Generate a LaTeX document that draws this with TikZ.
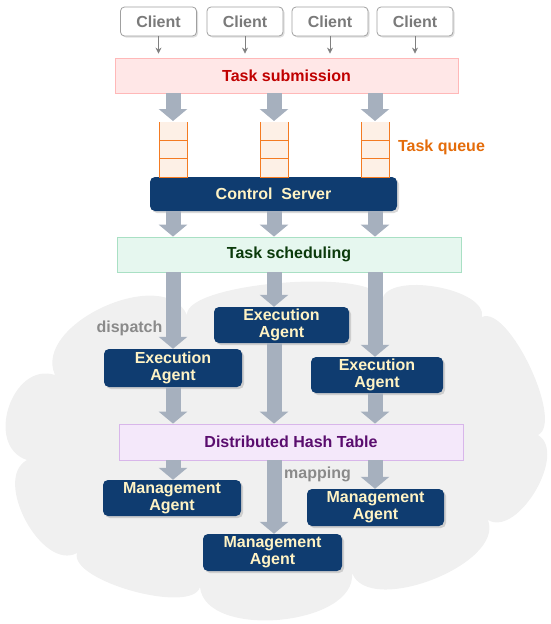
\documentclass[tikz,border=0pt]{standalone}
\usepackage{fontspec}
\setmainfont{Liberation Sans}
\usetikzlibrary{arrows.meta,shadows,calc}
\definecolor{navy}{HTML}{0F3C70}
\definecolor{navytext}{HTML}{FFF3C4}
\definecolor{arrowc}{HTML}{A6B0BE}
\definecolor{cloudc}{HTML}{F0F0F0}
\definecolor{pinkfill}{HTML}{FFE7E7}
\definecolor{pinkline}{HTML}{FFB8B8}
\definecolor{redtext}{HTML}{C00000}
\definecolor{greenfill}{HTML}{E6F7EF}
\definecolor{greenline}{HTML}{A9E0C4}
\definecolor{greentext}{HTML}{0B3A0B}
\definecolor{purplefill}{HTML}{F4E8FA}
\definecolor{purpleline}{HTML}{D8B6EA}
\definecolor{purpletext}{HTML}{5A0D6E}
\definecolor{queuefill}{HTML}{FDF0E6}
\definecolor{queueline}{HTML}{F47B22}
\definecolor{orangetext}{HTML}{E46C0A}
\definecolor{graytext}{HTML}{8A8A8A}
\definecolor{clienttext}{HTML}{7A7A7A}
\definecolor{clientline}{HTML}{A0A0A0}
\begin{document}
\begin{tikzpicture}[x=1pt,y=-1pt,font=\fontsize{16}{17}\selectfont\bfseries,
  client/.style={draw=clientline,fill=white,rounded corners=4pt,line width=0.8pt,
    minimum width=76pt,minimum height=29pt,inner sep=0pt,text=clienttext,
    drop shadow={shadow xshift=1.5pt,shadow yshift=-1.5pt,opacity=0.25}},
  band/.style={line width=0.8pt,minimum height=35pt,inner sep=0pt},
  navybox/.style={fill=navy,rounded corners=5pt,text=navytext,inner sep=0pt,
    align=center,minimum height=36pt,
    drop shadow={shadow xshift=2pt,shadow yshift=-2pt,opacity=0.3}},
  thin/.style={draw=gray,line width=0.8pt,-{Stealth[length=6pt,width=6pt]}},
  fat/.style={draw=arrowc,line width=15pt,-{Triangle[length=12pt,width=28pt]}},
  lbl/.style={inner sep=0pt,text=graytext},
  queue/.style={draw=queueline,line width=1pt}]
\useasboundingbox (0,0) rectangle (550,624);
% cloud
\fill[cloudc] (55,375) .. controls (32,324) and (164,264) .. (187,315)
  .. controls (184.5,282) and (379.5,267) .. (382,300)
  .. controls (387,271) and (487,288) .. (482,317)
  .. controls (508.5,304.4) and (564.5,422.4) .. (538,435)
  .. controls (568,452.7) and (518,537.7) .. (488,520)
  .. controls (505,564) and (369,617) .. (352,573)
  .. controls (357,626) and (205,640) .. (200,587)
  .. controls (192,615) and (69,581) .. (77,553)
  .. controls (42,572) and (-8,479) .. (27,460)
  .. controls (-16,446) and (12,361) .. (55,375) -- cycle;
% columns
\coordinate (c1) at (173,0);
\coordinate (c2) at (274,0);
\coordinate (c3) at (375,0);
% clients
\node[client] (cl1) at (158.5,21.5) {Client};
\node[client] (cl2) at (245,21.5) {Client};
\node[client] (cl3) at (330,21.5) {Client};
\node[client] (cl4) at (415,21.5) {Client};
\node[band,draw=pinkline,fill=pinkfill,text=redtext,minimum width=343pt] (ts) at (286.5,75.5) {Task submission};
\foreach \i in {1,...,4}{\draw[thin,shorten >=4pt] (cl\i.south) -- (ts.north -| cl\i.south);}
% control server
\node[navybox,minimum width=247pt,minimum height=34pt] (cs) at (273.5,194) {Control\ \ Server};
% queues
\foreach \c in {1,2,3}{
  \coordinate (q\c) at ($(c\c)+(0,121)$);
  \fill[queuefill] ($(c\c)+(-14,122)$) rectangle ($(c\c)+(14,177)$);
  \draw[queue] ($(c\c)+(-14,122)$) -- ($(c\c)+(-14,177)$) -- ($(c\c)+(14,177)$) -- ($(c\c)+(14,122)$);
  \draw[queue] ($(c\c)+(-14,140)$) -- ($(c\c)+(14,140)$);
  \draw[queue] ($(c\c)+(-14,158.5)$) -- ($(c\c)+(14,158.5)$);
  \draw[fat] (ts.south -| c\c) -- (q\c);
}
\node[inner sep=0pt,text=orangetext] (tq) at (441.5,147) {Task queue};
% scheduling
\node[band,draw=greenline,fill=greenfill,text=greentext,minimum width=344pt] (sch) at (289,254.5) {Task scheduling};
\foreach \c in {1,2,3}{\draw[fat] (cs.south -| c\c) -- (sch.north -| c\c);}
% execution agents
\node[navybox,minimum width=138pt,minimum height=38pt] (ex1) at (173,368) {Execution\\Agent};
\node[navybox,minimum width=135pt] (ex2) at (281.5,325) {Execution\\Agent};
\node[navybox,minimum width=132pt] (ex3) at (377,375) {Execution\\Agent};
\draw[fat] (sch.south -| c1) -- (ex1.north -| c1);
\draw[fat] (sch.south -| c2) -- (ex2.north -| c2);
\draw[fat] (sch.south -| c3) -- (ex3.north -| c3);
\node[lbl] (disp) at (129.5,328) {dispatch};
% DHT
\node[band,draw=purpleline,fill=purplefill,text=purpletext,minimum width=344pt,minimum height=36pt] (dht) at (291,442) {Distributed Hash Table};
\draw[fat] (ex1.south -| c1) -- (dht.north -| c1);
\draw[fat] (ex2.south -| c2) -- (dht.north -| c2);
\draw[fat] (ex3.south -| c3) -- (dht.north -| c3);
% management agents
\node[navybox,minimum width=138pt] (ma1) at (172,498) {Management\\Agent};
\node[navybox,minimum width=139pt,minimum height=37pt] (ma2) at (272.5,552.5) {Management\\Agent};
\node[navybox,minimum width=137pt,minimum height=37pt] (ma3) at (375.5,507.5) {Management\\Agent};
\draw[fat] (dht.south -| c1) -- (ma1.north -| c1);
\draw[fat] (dht.south -| c2) -- (ma2.north -| c2);
\draw[fat] (dht.south -| c3) -- (ma3.north -| c3);
\node[lbl] (map) at (317.5,474) {mapping};
\end{tikzpicture}
\end{document}
